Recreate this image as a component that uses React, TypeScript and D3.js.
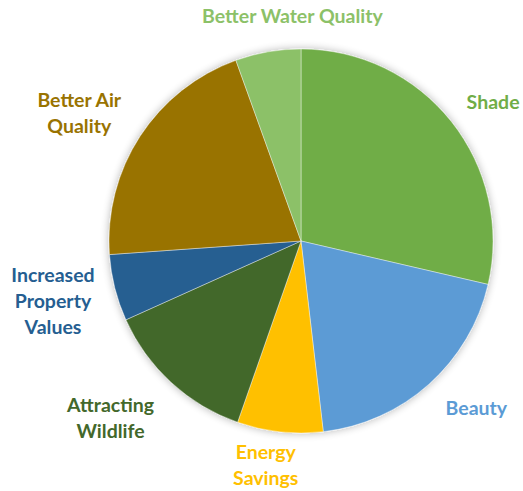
import React from "react";
import * as d3 from "d3";

// slices, clockwise from 12 o'clock
const categories = [
  "Shade",
  "Beauty",
  "Energy Savings",
  "Attracting Wildlife",
  "Increased Property Values",
  "Better Air Quality",
  "Better Water Quality",
];
const values = [28.6, 19.5, 7.2, 12.9, 5.6, 20.6, 5.5];
const colors = ["#70AD47", "#5B9BD5", "#FFC000", "#43682B", "#255E91", "#997300", "#8CC168"];
// how each label wraps
const labelLines = [
  ["Shade"],
  ["Beauty"],
  ["Energy", "Savings"],
  ["Attracting", "Wildlife"],
  ["Increased", "Property", "Values"],
  ["Better Air", "Quality"],
  ["Better Water Quality"],
];
// nudges of the label from its centroid on the label ring
const labelNudge = [
  [12, 4.5],
  [22, -4.5],
  [-10, -4.5],
  [-35, 8],
  [-25, 3.5],
  [-29, -2.5],
  [31, 2],
];

const width = 523;
const height = 491;
const cx = 301;
const cy = 241;
const radius = 192;
const labelRadius = 230;
const fontSize = 19.5;
const lineHeight = 26;
const capHeight = fontSize * 0.7;

export default function App() {
  const data = categories.map((c, i) => ({ name: c, value: values[i], i }));
  const pie = d3.pie<any>().sort(null).value((d) => d.value);
  const arcs = pie(data);
  const arc = d3.arc<any>().innerRadius(0).outerRadius(radius);
  const labelArc = d3.arc<any>().innerRadius(labelRadius).outerRadius(labelRadius);

  return (
    <svg
      width={width}
      height={height}
      style={{ position: "absolute", left: 0, top: 0, background: "#fff" }}
      fontFamily="Lato, 'Open Sans', sans-serif"
    >
      <defs>
        <filter id="glow" x="-20%" y="-20%" width="140%" height="140%">
          <feGaussianBlur in="SourceAlpha" stdDeviation="4" />
          <feComponentTransfer>
            <feFuncA type="linear" slope="0.3" />
          </feComponentTransfer>
          <feMerge>
            <feMergeNode />
            <feMergeNode in="SourceGraphic" />
          </feMerge>
        </filter>
      </defs>
      <g transform={`translate(${cx},${cy})`}>
        <g filter="url(#glow)">
          {arcs.map((a) => (
            <path key={a.data.name} d={arc(a) || ""} fill={colors[a.data.i]} stroke="#fff" strokeWidth={0.4} />
          ))}
        </g>
        {arcs.map((a) => {
          const i = a.data.i;
          const [x, y] = labelArc.centroid(a);
          const lx = x + labelNudge[i][0];
          const ly = y + labelNudge[i][1];
          const lines = labelLines[i];
          const y0 = ly - ((lines.length - 1) * lineHeight + capHeight) / 2 + capHeight;
          return (
            <text
              key={a.data.name}
              x={lx}
              textAnchor="middle"
              fontSize={fontSize}
              fontWeight="bold"
              fill={colors[i]}
            >
              {lines.map((t, k) => (
                <tspan key={k} x={lx} y={y0 + k * lineHeight}>
                  {t}
                </tspan>
              ))}
            </text>
          );
        })}
      </g>
    </svg>
  );
}
